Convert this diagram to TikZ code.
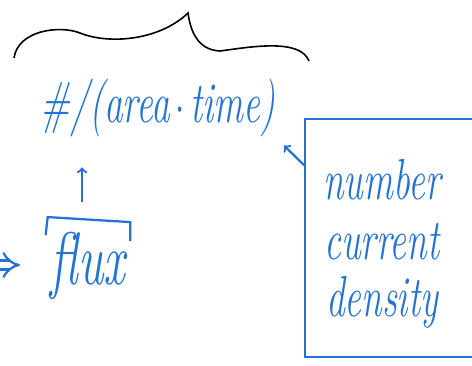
\documentclass[tikz,border=0pt]{standalone}
\usepackage{tikz}
\usetikzlibrary{arrows,positioning}
\definecolor{pen}{RGB}{35,115,215}
\newcommand{\tallink}[1]{\scalebox{1}[1.55]{#1}}

\begin{document}
\begin{tikzpicture}[x=0.75pt,y=-0.75pt,->,>=to,line width=1.7pt,color=pen,node distance=46pt,
  hand/.style={text=pen,font=\fontsize{28}{30}\selectfont\itshape,inner sep=0pt}]
  \useasboundingbox (0,0) rectangle (472,365);
  % brace over the top
  \draw[-,black,line width=1.2pt] (14,58) .. controls (18,30) and (60,25) .. (80,33)
    .. controls (110,45) and (160,40) .. (188,13)
    .. controls (191,35) and (200,50) .. (220,51)
    .. controls (250,47) and (300,38) .. (309,61);
  \node[hand] (rate) at (158,108) {\tallink{\#/(area$\,\cdot\,$time)}};
  \node[hand,font=\fontsize{36}{40}\selectfont\itshape] (flux) at (88,266) {\tallink{flux}};
  \node[hand] (number) at (382,180) {\tallink{number}};
  \node[hand] (current) [below of=number] {\tallink{current}};
  \node[hand] (density) [below of=current] {\tallink{density}};
  \node[draw=pen,line width=1.7pt,minimum width=160pt,minimum height=178pt] (box) at (412,238) {};
  % bracket over flux
  \draw[-] ([shift={(-4,4)}]flux.north west) -- ([shift={(-2,-14)}]flux.north west)
    -- ([shift={(4,-9)}]flux.north east) -- ([shift={(4,10)}]flux.north east);
  \coordinate (from) at (-20,265);
  \coordinate (into) at (20,265);
  \draw[double,double distance=5pt,-implies] (from) -- (into);
  \path (flux) ++(-6,-64) coordinate (fluxtop);
  \draw[shorten >=22pt] (fluxtop) -- (rate.south -| fluxtop);
  \draw[shorten >=8pt] (box.146) -- (rate.south east);
\end{tikzpicture}
\end{document}
